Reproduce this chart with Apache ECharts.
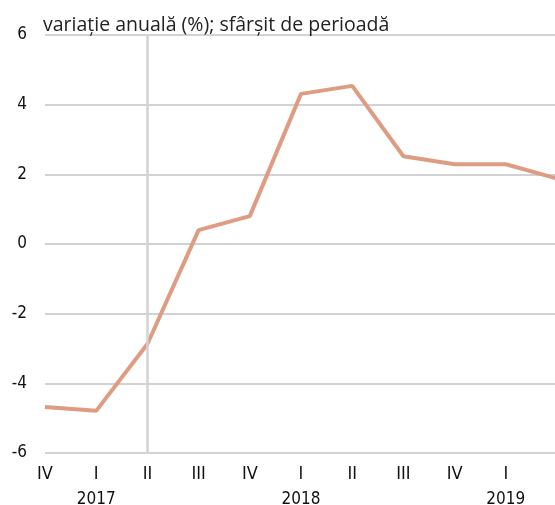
<!DOCTYPE html>
<html>
<head>
<meta charset="utf-8">
<script src="https://cdn.jsdelivr.net/npm/echarts@6/dist/echarts.min.js"></script>
<style>
  html, body { margin: 0; padding: 0; background: #fff; overflow: hidden; }
  #chart { width: 555px; height: 505px; }
</style>
</head>
<body>
<div id="chart"></div>
<script>
// Quarter labels along the axis (Q4 2016 through Q2 2019)
const quarters = ['IV', 'I', 'II', 'III', 'IV', 'I', 'II', 'III', 'IV', 'I', 'II'];
// Year captions shown under the first quarter of each year
const yearLabels = ['', '2017', '', '', '', '2018', '', '', '', '2019', ''];
// Annual change, end of period (%)
const values = [-4.68, -4.79, -2.87, 0.40, 0.80, 4.31, 4.54, 2.52, 2.29, 2.29, 1.88];
// Y axis ticks
const yTicks = [-6, -4, -2, 0, 2, 4, 6];
// Quarter marked by the vertical reference line
const markedIndex = 2;

const condensed = '"DejaVu Sans Condensed", "DejaVu Sans", sans-serif';
const lastIndex = quarters.length - 1;
const chart = echarts.init(document.getElementById('chart'), null, { renderer: 'canvas' });

chart.setOption({
  animation: false,
  title: {
    text: 'variație anuală (%); sfârșit de perioadă',
    left: 38,
    top: 10,
    textStyle: { fontFamily: '"Open Sans", sans-serif', fontSize: 19.5, fontWeight: 'normal', color: '#222' }
  },
  grid: { left: 45, top: 35, width: 512, height: 418, containLabel: false, outerBoundsMode: 'none' },
  xAxis: [
    {
      type: 'category',
      data: quarters,
      boundaryGap: false,
      axisLine: { show: false },
      axisTick: { show: false },
      splitLine: { show: false },
      axisLabel: {
        interval: 0,
        margin: 12,
        fontFamily: condensed,
        fontSize: 18,
        color: '#111',
        // the last quarter sits on the plot edge and carries no label
        formatter: (v, i) => (i === lastIndex ? '' : v)
      }
    },
    {
      type: 'category',
      data: yearLabels,
      position: 'bottom',
      offset: 26,
      boundaryGap: false,
      axisLine: { show: false },
      axisTick: { show: false },
      axisLabel: {
        interval: 0,
        margin: 12,
        fontFamily: condensed,
        fontSize: 17,
        color: '#111'
      }
    }
  ],
  yAxis: {
    type: 'value',
    min: yTicks[0],
    max: yTicks[yTicks.length - 1],
    interval: 2,
    axisLine: { show: false },
    axisTick: { show: false },
    axisLabel: {
      margin: 18,
      fontFamily: condensed,
      fontSize: 17,
      color: '#111',
      padding: [3, 0, 0, 0]
    },
    splitLine: { lineStyle: { color: '#d2d2d2', width: 2 } }
  },
  series: [
    {
      type: 'line',
      data: values,
      xAxisIndex: 0,
      symbol: 'none',
      lineStyle: { color: '#DE9C82', width: 4 },
      markLine: {
        silent: true,
        symbol: 'none',
        label: { show: false },
        lineStyle: { color: '#d2d2d2', width: 2.5, type: 'solid' },
        data: [{ xAxis: markedIndex }]
      }
    }
  ]
});
</script>
</body>
</html>
